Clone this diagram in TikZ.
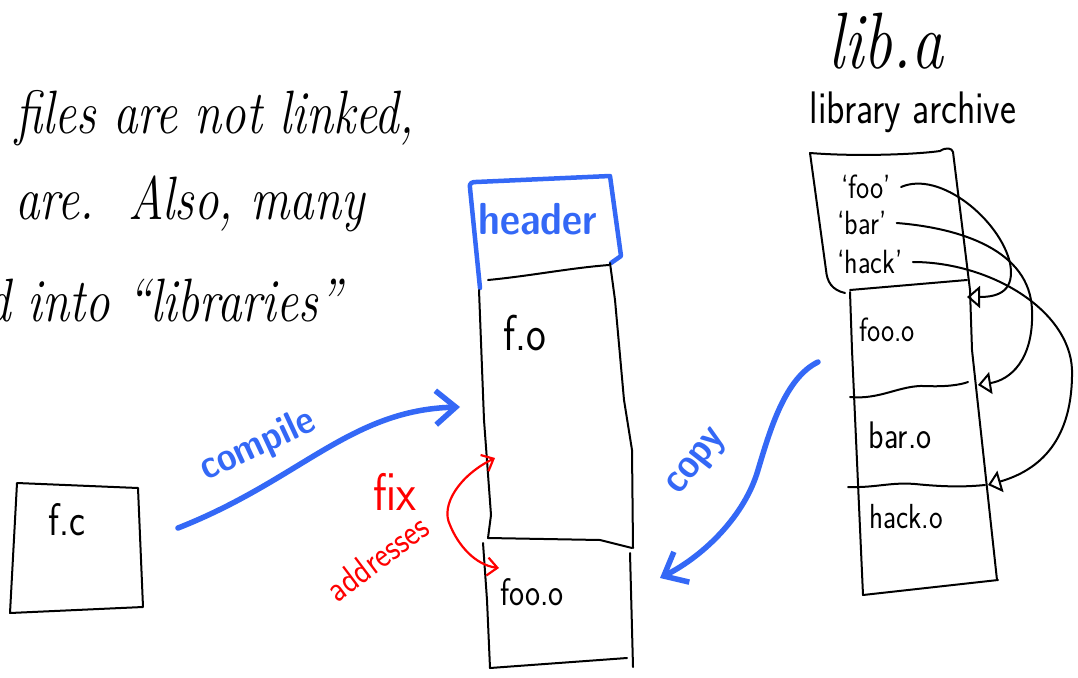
\documentclass[tikz,border=0pt]{standalone}
\usepackage{fontspec}
\usetikzlibrary{arrows.meta}
\definecolor{penblue}{RGB}{52,104,246}
\definecolor{penred}{RGB}{255,0,0}

\begin{document}
\begin{tikzpicture}[x=1pt,y=-1pt,
  ink/.style={draw=black, line width=2pt, line cap=round, line join=round},
  blueink/.style={draw=penblue, line width=5.5pt, line cap=round, line join=round},
  redink/.style={draw=penred, line width=2.2pt, line cap=round, line join=round},
  handprint/.style={inner sep=0pt, yscale=1.2, font=\sffamily\fontsize{#1}{#1}\selectfont},
  handscript/.style={inner sep=0pt, anchor=base west, yscale=1.25, font=\itshape\fontsize{#1}{#1}\selectfont},
  bluelabel/.style={inner sep=0pt, yscale=1.15, text=penblue, font=\sffamily\bfseries\fontsize{#1}{#1}\selectfont},
  redlabel/.style={inner sep=0pt, yscale=1.15, text=penred, font=\sffamily\fontsize{#1}{#1}\selectfont},
  bluehead/.style={-{Straight Barb[length=20pt,width=34pt]}},
  openhead/.style={-{Triangle[open,length=13pt,width=22pt]}},
  redheads/.style={{Straight Barb[length=10pt,width=18pt]}-{Straight Barb[length=10pt,width=18pt]}}
]
\useasboundingbox (0,0) rectangle (1078,677);

% ---- handwritten remark on the left
\node[handscript=49] (line1) at (15,133) {files are not linked,};
\node[handscript=49] (line2) at (15,219) {are.\ \ Also, many};
\node[handscript=49] (line3) at (-14,321) {d into “libraries”};

% ---- source file f.c
\draw[ink] (17,483) -- (138,488) -- (143,607) -- (10,613) -- cycle;
\node[handprint=38] (fc) at (67,520) {f.c};

% ---- object file column: header, f.o, foo.o
\draw[blueink, line width=4.5pt] (480,288) -- (470,188) .. controls (469,183) and (472,182) .. (476,182)
  -- (610,176) -- (621,256) -- (611,263);
\node[bluelabel=39] (header) at (538,219) {header};

\draw[ink] (488,280) .. controls (530,276) and (570,268) .. (609,265);
\draw[ink] (479,290) -- (484,420) -- (491,515) -- (488,538) -- (600,540) -- (632,548);
\draw[ink] (610,263) -- (615,300) -- (624,400) -- (632,450) -- (633,548);
\node[handprint=42] (fo) at (525,333) {f.o};

\draw[ink] (483,543) -- (487,600) -- (490,668) -- (627,658);
\draw[ink] (630,553) -- (633,667);
\node[handprint=32] (fooO) at (532,592) {foo.o};

% ---- compile step
\coordinate (compileFrom) at (178,528);
\coordinate (compileTo) at (460,407);
\draw[blueink, bluehead] (compileFrom) .. controls (300,480) and (350,410) .. (compileTo);
\node[rotate=25, bluelabel=35] (compile) at (258,446) {compile};

% ---- address fix-up
\coordinate (fixUp) at (495,458);
\coordinate (fixMid) at (450,525);
\coordinate (fixDown) at (499,568);
\draw[redink, redheads] (fixUp) .. controls (460,475) and (440,505) .. (fixMid)
  .. controls (458,545) and (475,565) .. (fixDown);
\node[redlabel=46] (fix) at (395,492) {fix};
\node[rotate=37, redlabel=32] (addresses) at (377,558) {addresses};

% ---- library archive lib.a
\node[handscript=64] (liba) at (828,68) {lib.a};
\node[handprint=38] (archive) at (913,112) {library archive};

\draw[ink] (845,293) .. controls (832,290) and (827,282) .. (826,270)
  -- (810,153) .. controls (860,157) and (920,154) .. (940,151)
  .. controls (946,147) and (952,148) .. (953,152) -- (970,290) -- (972,350) -- (997,580);
\draw[ink] (850,290) -- (967,280);
\draw[ink] (850,292) -- (852,350) -- (863,595) -- (998,580);
\draw[ink] (850,397) .. controls (880,400) and (900,385) .. (925,386)
  .. controls (945,387) and (960,385) .. (968,382);
\draw[ink] (848,487) .. controls (875,488) and (890,482) .. (915,484)
  .. controls (945,487) and (965,487) .. (985,485);

\node[handprint=28] (qfoo) at (866,187) {‘foo’};
\node[handprint=28] (qbar) at (862,223) {‘bar’};
\node[handprint=28] (qhack) at (870,262) {‘hack’};
\node[handprint=28] (libfoo) at (887,330) {foo.o};
\node[handprint=32] (libbar) at (900,435) {bar.o};
\node[handprint=29] (libhack) at (906,517) {hack.o};

% symbol table entries point at their members
\coordinate (fooEntry) at (967,297);
\coordinate (barEntry) at (978,385);
\coordinate (hackEntry) at (988,485);
\draw[ink, openhead] ([xshift=10pt]qfoo.east) .. controls (940,170) and (1000,220) .. (1010,263)
  .. controls (1015,290) and (1000,297) .. (fooEntry);
\draw[ink, openhead] ([xshift=10pt]qbar.east) .. controls (960,228) and (1030,250) .. (1032,310)
  .. controls (1034,360) and (1010,380) .. (barEntry);
\draw[ink, openhead] ([xshift=10pt]qhack.east) .. controls (990,262) and (1070,310) .. (1072,370)
  .. controls (1073,440) and (1040,470) .. (hackEntry);

% ---- copy step
\coordinate (copyFrom) at (818,362);
\coordinate (copyTo) at (660,578);
\draw[blueink, bluehead] (copyFrom) .. controls (785,378) and (770,430) .. (758,470)
  .. controls (745,515) and (705,555) .. (copyTo);
\node[rotate=52, bluelabel=36] (copy) at (698,463) {copy};
\end{tikzpicture}
\end{document}
